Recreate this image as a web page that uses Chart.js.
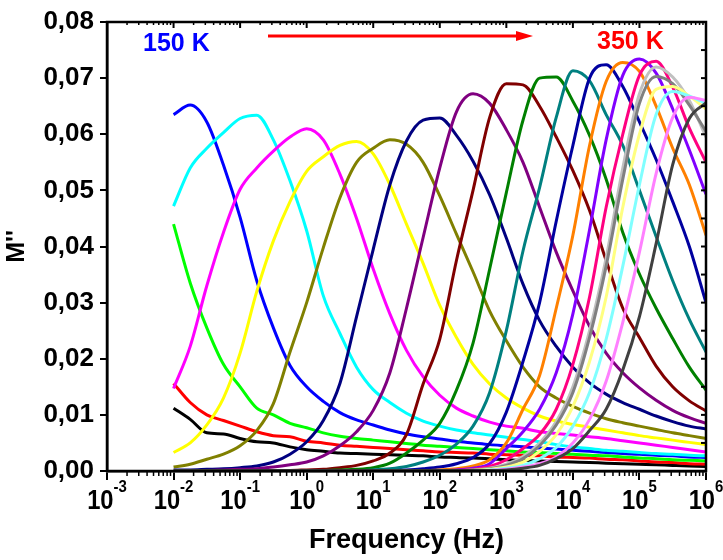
<!DOCTYPE html>
<html lang="en">
<head>
    <meta charset="UTF-8">
    <title>M'' vs Frequency</title>
    <script src="https://cdn.jsdelivr.net/npm/chart.js"></script>
    <style>
        body {
            margin: 0;
            padding: 0;
            background: #fff;
        }

        .chart-box {
            width: 723px;
            height: 560px;
        }
    </style>
</head>
<body>
    <div class="chart-box">
        <canvas id="modulusChart"></canvas>
    </div>

    <script>
        // Frequency grid (Hz), 4 points per decade
        const freq = [0.01, 0.0178, 0.0316, 0.0562, 0.1, 0.178, 0.316, 0.562,
            1, 1.78, 3.16, 5.62, 10, 17.8, 31.6, 56.2,
            100, 178, 316, 562, 1000, 1780, 3160, 5620,
            1e4, 1.78e4, 3.16e4, 5.62e4, 1e5, 1.78e5, 3.16e5, 5.62e5, 1e6];

        // M'' curves, low to high temperature
        const mBlack = [0.0112, 0.0092, 0.0068, 0.0066, 0.0058, 0.0052, 0.0050, 0.0043,
            0.0038, 0.0035, 0.0032, 0.0031, 0.0030, 0.0029, 0.0028, 0.0027,
            0.0025, 0.0024, 0.0023, 0.0022, 0.0020, 0.0019, 0.0018, 0.0017,
            0.0016, 0.0015, 0.0014, 0.0013, 0.0012, 0.0011, 0.0010, 0.0009, 0.0008];
        const mRed = [0.0156, 0.0122, 0.0100, 0.0090, 0.0080, 0.0070, 0.0063, 0.0061,
            0.0053, 0.0050, 0.0046, 0.0044, 0.0042, 0.0040, 0.0038, 0.0036,
            0.0034, 0.0033, 0.0032, 0.0030, 0.0029, 0.0028, 0.0027, 0.0025,
            0.0024, 0.0023, 0.0021, 0.0020, 0.0018, 0.0016, 0.0015, 0.0013, 0.0012];
        const mGreen = [0.0440, 0.0335, 0.0255, 0.0190, 0.0150, 0.0112, 0.0100, 0.0085,
            0.0077, 0.0068, 0.0062, 0.0058, 0.0055, 0.0052, 0.0049, 0.0046,
            0.0044, 0.0042, 0.0040, 0.0038, 0.0036, 0.0034, 0.0033, 0.0031,
            0.0030, 0.0028, 0.0027, 0.0025, 0.0023, 0.0022, 0.0020, 0.0019, 0.0018];
        const mBlue = [0.0635, 0.0652, 0.0622, 0.0545, 0.0452, 0.0339, 0.0255, 0.0188,
            0.0150, 0.0124, 0.0104, 0.0091, 0.0082, 0.0073, 0.0066, 0.0061,
            0.0057, 0.0053, 0.0050, 0.0047, 0.0045, 0.0043, 0.0041, 0.0039,
            0.0037, 0.0035, 0.0033, 0.0031, 0.0030, 0.0028, 0.0027, 0.0025, 0.0024];
        const mCyan = [0.0472, 0.0540, 0.0575, 0.0603, 0.0628, 0.0634, 0.0590, 0.0517,
            0.0428, 0.0312, 0.0245, 0.0185, 0.0145, 0.0122, 0.0103, 0.0089,
            0.0080, 0.0073, 0.0068, 0.0064, 0.0060, 0.0056, 0.0052, 0.0047,
            0.0043, 0.0040, 0.0037, 0.0035, 0.0033, 0.0031, 0.0030, 0.0028, 0.0027];
        const mMagenta = [0.0147, 0.0222, 0.0330, 0.0425, 0.0502, 0.0540, 0.0570, 0.0595,
            0.0610, 0.0590, 0.0529, 0.0450, 0.0360, 0.0280, 0.0215, 0.0168,
            0.0135, 0.0112, 0.0098, 0.0087, 0.0080, 0.0076, 0.0070, 0.0067,
            0.0064, 0.0061, 0.0058, 0.0054, 0.0050, 0.0046, 0.0042, 0.0038, 0.0034];
        const mYellow = [0.0033, 0.0050, 0.0082, 0.0130, 0.0210, 0.0320, 0.0410, 0.0480,
            0.0534, 0.0560, 0.0580, 0.0587, 0.0565, 0.0510, 0.0440, 0.0370,
            0.0295, 0.0238, 0.0190, 0.0155, 0.0130, 0.0112, 0.0098, 0.0089,
            0.0083, 0.0078, 0.0073, 0.0068, 0.0063, 0.0059, 0.0055, 0.0051, 0.0047];
        const mOlive = [0.0007, 0.0012, 0.0021, 0.0030, 0.0045, 0.0072, 0.0120, 0.0212,
            0.0300, 0.0398, 0.0487, 0.0550, 0.0575, 0.0590, 0.0582, 0.0550,
            0.0490, 0.0422, 0.0355, 0.0285, 0.0232, 0.0185, 0.0150, 0.0130,
            0.0115, 0.0103, 0.0093, 0.0086, 0.0080, 0.0074, 0.0068, 0.0063, 0.0058];
        const mNavy = [0.0002, 0.0002, 0.0003, 0.0004, 0.0006, 0.0009, 0.0016, 0.0030,
            0.0052, 0.0090, 0.0156, 0.0275, 0.0395, 0.0510, 0.0588, 0.0625,
            0.0629, 0.0598, 0.0552, 0.0492, 0.0415, 0.0333, 0.0268, 0.0222,
            0.0185, 0.0157, 0.0137, 0.0122, 0.0110, 0.0098, 0.0088, 0.0080, 0.0075];
        const mPurple = [0.0001, 0.0001, 0.0001, 0.0002, 0.0003, 0.0004, 0.0007, 0.0011,
            0.0016, 0.0027, 0.0045, 0.0070, 0.0108, 0.0175, 0.0290, 0.0416,
            0.0540, 0.0640, 0.0672, 0.0655, 0.0608, 0.0550, 0.0470, 0.0390,
            0.0321, 0.0258, 0.0210, 0.0175, 0.0148, 0.0126, 0.0108, 0.0095, 0.0085];
        const mWine = [0.0001, 0.0001, 0.0001, 0.0001, 0.0001, 0.0001, 0.0001, 0.0001,
            0.0002, 0.0003, 0.0006, 0.0010, 0.0018, 0.0032, 0.0065, 0.0155,
            0.0235, 0.0375, 0.0500, 0.0630, 0.0690, 0.0688, 0.0650, 0.0595,
            0.0535, 0.0464, 0.0375, 0.0290, 0.0238, 0.0187, 0.0150, 0.0125, 0.0107];
        const mDkGreen = [0.0001, 0.0001, 0.0001, 0.0001, 0.0001, 0.0001, 0.0001, 0.0001,
            0.0001, 0.0001, 0.0002, 0.0003, 0.0006, 0.0014, 0.0032, 0.0055,
            0.0085, 0.0144, 0.0228, 0.0360, 0.0496, 0.0625, 0.0700, 0.0702,
            0.0659, 0.0598, 0.0520, 0.0425, 0.0351, 0.0290, 0.0236, 0.0185, 0.0144];
        const mTeal = [0.0001, 0.0001, 0.0001, 0.0001, 0.0001, 0.0001, 0.0001, 0.0001,
            0.0001, 0.0001, 0.0001, 0.0001, 0.0002, 0.0004, 0.0008, 0.0016,
            0.0028, 0.0048, 0.0080, 0.0140, 0.0250, 0.0392, 0.0505, 0.0630,
            0.0713, 0.0695, 0.0635, 0.0580, 0.0500, 0.0418, 0.0339, 0.0270, 0.0212];
        const mRoyal = [0.0001, 0.0001, 0.0001, 0.0001, 0.0001, 0.0001, 0.0001, 0.0001,
            0.0001, 0.0001, 0.0001, 0.0001, 0.0001, 0.0001, 0.0002, 0.0004,
            0.0007, 0.0013, 0.0024, 0.0049, 0.0105, 0.0195, 0.0300, 0.0445,
            0.0580, 0.0700, 0.0724, 0.0685, 0.0622, 0.0555, 0.0480, 0.0400, 0.0300];
        const mOrange = [0.0001, 0.0001, 0.0001, 0.0001, 0.0001, 0.0001, 0.0001, 0.0001,
            0.0001, 0.0001, 0.0001, 0.0001, 0.0001, 0.0001, 0.0001, 0.0001,
            0.0002, 0.0004, 0.0009, 0.0020, 0.0050, 0.0110, 0.0170, 0.0290,
            0.0420, 0.0580, 0.0694, 0.0728, 0.0712, 0.0650, 0.0575, 0.0510, 0.0420];
        const mViolet = [0.0001, 0.0001, 0.0001, 0.0001, 0.0001, 0.0001, 0.0001, 0.0001,
            0.0001, 0.0001, 0.0001, 0.0001, 0.0001, 0.0001, 0.0001, 0.0001,
            0.0001, 0.0002, 0.0005, 0.0013, 0.0040, 0.0070, 0.0110, 0.0175,
            0.0280, 0.0430, 0.0590, 0.0705, 0.0734, 0.0709, 0.0645, 0.0572, 0.0493];
        const mPink = [0.0001, 0.0001, 0.0001, 0.0001, 0.0001, 0.0001, 0.0001, 0.0001,
            0.0001, 0.0001, 0.0001, 0.0001, 0.0001, 0.0001, 0.0001, 0.0001,
            0.0001, 0.0001, 0.0003, 0.0008, 0.0020, 0.0040, 0.0065, 0.0110,
            0.0190, 0.0310, 0.0470, 0.0600, 0.0705, 0.0730, 0.0684, 0.0611, 0.0550];
        const mLtGray = [0.0001, 0.0001, 0.0001, 0.0001, 0.0001, 0.0001, 0.0001, 0.0001,
            0.0001, 0.0001, 0.0001, 0.0001, 0.0001, 0.0001, 0.0001, 0.0001,
            0.0001, 0.0001, 0.0002, 0.0005, 0.0012, 0.0026, 0.0050, 0.0088,
            0.0150, 0.0250, 0.0380, 0.0540, 0.0672, 0.0720, 0.0702, 0.0660, 0.0595];
        const mGray = [0.0001, 0.0001, 0.0001, 0.0001, 0.0001, 0.0001, 0.0001, 0.0001,
            0.0001, 0.0001, 0.0001, 0.0001, 0.0001, 0.0001, 0.0001, 0.0001,
            0.0001, 0.0001, 0.0002, 0.0004, 0.0010, 0.0022, 0.0045, 0.0082,
            0.0140, 0.0238, 0.0365, 0.0520, 0.0655, 0.0703, 0.0690, 0.0652, 0.0605];
        const mLtYellow = [0.0001, 0.0001, 0.0001, 0.0001, 0.0001, 0.0001, 0.0001, 0.0001,
            0.0001, 0.0001, 0.0001, 0.0001, 0.0001, 0.0001, 0.0001, 0.0001,
            0.0001, 0.0001, 0.0001, 0.0003, 0.0007, 0.0016, 0.0035, 0.0065,
            0.0115, 0.0195, 0.0310, 0.0470, 0.0600, 0.0680, 0.0685, 0.0668, 0.0645];
        const mLtCyan = [0.0001, 0.0001, 0.0001, 0.0001, 0.0001, 0.0001, 0.0001, 0.0001,
            0.0001, 0.0001, 0.0001, 0.0001, 0.0001, 0.0001, 0.0001, 0.0001,
            0.0001, 0.0001, 0.0001, 0.0002, 0.0005, 0.0010, 0.0022, 0.0042,
            0.0080, 0.0140, 0.0235, 0.0365, 0.0510, 0.0635, 0.0676, 0.0668, 0.0655];
        const mLtMagenta = [0.0001, 0.0001, 0.0001, 0.0001, 0.0001, 0.0001, 0.0001, 0.0001,
            0.0001, 0.0001, 0.0001, 0.0001, 0.0001, 0.0001, 0.0001, 0.0001,
            0.0001, 0.0001, 0.0001, 0.0001, 0.0003, 0.0007, 0.0013, 0.0025,
            0.0050, 0.0092, 0.0160, 0.0265, 0.0390, 0.0530, 0.0630, 0.0666, 0.0660];
        const mDkGray = [0.0001, 0.0001, 0.0001, 0.0001, 0.0001, 0.0001, 0.0001, 0.0001,
            0.0001, 0.0001, 0.0001, 0.0001, 0.0001, 0.0001, 0.0001, 0.0001,
            0.0001, 0.0001, 0.0001, 0.0001, 0.0002, 0.0005, 0.0010, 0.0022,
            0.0040, 0.0072, 0.0110, 0.0180, 0.0275, 0.0405, 0.0546, 0.0628, 0.0656];

        const series = [mBlack, mRed, mGreen, mBlue, mCyan, mMagenta, mYellow, mOlive,
            mNavy, mPurple, mWine, mDkGreen, mTeal, mRoyal, mOrange, mViolet, mPink,
            mLtGray, mGray, mLtYellow, mLtCyan, mLtMagenta, mDkGray];
        const colors = ['#000000', '#FF0000', '#00FF00', '#0000FF', '#00FFFF', '#FF00FF',
            '#FFFF00', '#808000', '#000080', '#800080', '#800000', '#008000', '#008080',
            '#0000A0', '#FF8000', '#8000FF', '#FF0080', '#C0C0C0', '#808080', '#FFFF80',
            '#80FFFF', '#FF80FF', '#404040'];

        const xTickExp = [-3, -2, -1, 0, 1, 2, 3, 4, 5, 6];

        const FONT = '"Liberation Sans", Arial, sans-serif';

        // frame, mirrored ticks, minor ticks, decade labels and the 150 K -> 350 K note
        const framePlugin = {
            id: 'frame',
            afterDraw(chart) {
                const { ctx, chartArea: a, scales: { x, y } } = chart;
                const seg = (x1, y1, x2, y2) => {
                    ctx.beginPath();
                    ctx.moveTo(x1, y1);
                    ctx.lineTo(x2, y2);
                    ctx.stroke();
                };
                ctx.save();
                ctx.strokeStyle = '#000';

                // minor decade ticks
                ctx.lineWidth = 1.5;
                for (let e = -3; e < 6; e++) {
                    for (let m = 2; m <= 9; m++) {
                        const px = x.getPixelForValue(m * Math.pow(10, e));
                        seg(px, a.bottom, px, a.bottom + 5);
                        seg(px, a.top, px, a.top + 3);
                    }
                }
                // major ticks on top, inward
                ctx.lineWidth = 2;
                xTickExp.forEach(e => {
                    const px = x.getPixelForValue(Math.pow(10, e));
                    seg(px, a.top, px, a.top + 6);
                });
                // right axis ticks, inward
                for (let v = 0; v <= 0.0801; v += 0.005) {
                    const py = y.getPixelForValue(v);
                    seg(a.right, py, a.right - 5, py);
                }

                // full frame
                ctx.lineWidth = 2.5;
                ctx.strokeRect(a.left, a.top, a.right - a.left, a.bottom - a.top);

                // x tick labels 10^n, slightly condensed like the original
                ctx.fillStyle = '#000';
                ctx.textBaseline = 'alphabetic';
                ctx.textAlign = 'left';
                const squeeze = 0.88;
                xTickExp.forEach(e => {
                    const px = x.getPixelForValue(Math.pow(10, e));
                    const base = '10';
                    const sup = e < 0 ? '-' + Math.abs(e) : String(e);
                    ctx.font = 'bold 27px ' + FONT;
                    const w1 = ctx.measureText(base).width * squeeze;
                    ctx.font = 'bold 17px ' + FONT;
                    const w2 = ctx.measureText(sup).width * squeeze;
                    const x0 = px - (w1 + w2) / 2;
                    ctx.save();
                    ctx.translate(x0, 0);
                    ctx.scale(squeeze, 1);
                    ctx.font = 'bold 27px ' + FONT;
                    ctx.fillText(base, 0, 509);
                    ctx.font = 'bold 17px ' + FONT;
                    ctx.fillText(sup, w1 / squeeze, 492);
                    ctx.restore();
                });

                // temperature note
                ctx.font = 'bold 25px ' + FONT;
                ctx.fillStyle = '#0000FF';
                ctx.fillText('150 K', 143, 51);
                ctx.fillStyle = '#FF0000';
                ctx.fillText('350 K', 597, 49);

                ctx.strokeStyle = '#FF0000';
                ctx.lineWidth = 3;
                seg(268, 36, 520, 36);
                ctx.beginPath();
                ctx.moveTo(533, 36);
                ctx.lineTo(516, 31);
                ctx.lineTo(516, 41);
                ctx.closePath();
                ctx.fill();

                ctx.restore();
            }
        };

        const datasets = series.map((vals, i) => ({
            data: vals.map((v, k) => ({ x: freq[k], y: v })),
            borderColor: colors[i],
            borderWidth: 3,
            pointRadius: 0,
            fill: false,
            cubicInterpolationMode: 'monotone',
            order: series.length - i
        }));

        new Chart(document.getElementById('modulusChart'), {
            type: 'line',
            data: { datasets },
            plugins: [framePlugin],
            options: {
                responsive: true,
                maintainAspectRatio: false,
                animation: false,
                layout: { padding: { top: 22, right: 17, left: 0, bottom: 0 } },
                plugins: {
                    legend: { display: false },
                    tooltip: { enabled: false }
                },
                scales: {
                    x: {
                        type: 'logarithmic',
                        min: 1e-3,
                        max: 1e6,
                        afterBuildTicks: scale => {
                            scale.ticks = xTickExp.map(e => ({ value: Math.pow(10, e) }));
                        },
                        afterFit: scale => { scale.height = 89; },
                        ticks: { display: false },
                        grid: {
                            drawOnChartArea: false,
                            tickLength: 9,
                            color: '#000',
                            lineWidth: 2
                        },
                        border: { display: true, color: '#000', width: 2.5 },
                        title: {
                            display: true,
                            text: 'Frequency (Hz)',
                            color: '#000',
                            font: { family: FONT, size: 27, weight: 'bold' },
                            padding: { top: 0, bottom: 3 }
                        }
                    },
                    y: {
                        min: 0,
                        max: 0.08,
                        afterBuildTicks: scale => {
                            const t = [];
                            for (let k = 0; k <= 16; k++) t.push({ value: k * 0.005 });
                            scale.ticks = t;
                        },
                        afterFit: scale => { scale.width = 107; },
                        ticks: {
                            color: '#000',
                            padding: 6,
                            font: { family: FONT, size: 26, weight: 'bold' },
                            callback: v => {
                                const k = Math.round(v / 0.005);
                                return k % 2 === 0 ? (k * 0.005).toFixed(2).replace('.', ',') : '';
                            }
                        },
                        grid: {
                            drawOnChartArea: false,
                            tickLength: 7,
                            color: '#000',
                            lineWidth: 2
                        },
                        border: { display: true, color: '#000', width: 2.5 },
                        title: {
                            display: true,
                            text: "M''",
                            color: '#000',
                            font: { family: FONT, size: 25, weight: 'bold' },
                            padding: { top: 2, bottom: 4 }
                        }
                    }
                }
            }
        });
    </script>
</body>
</html>
